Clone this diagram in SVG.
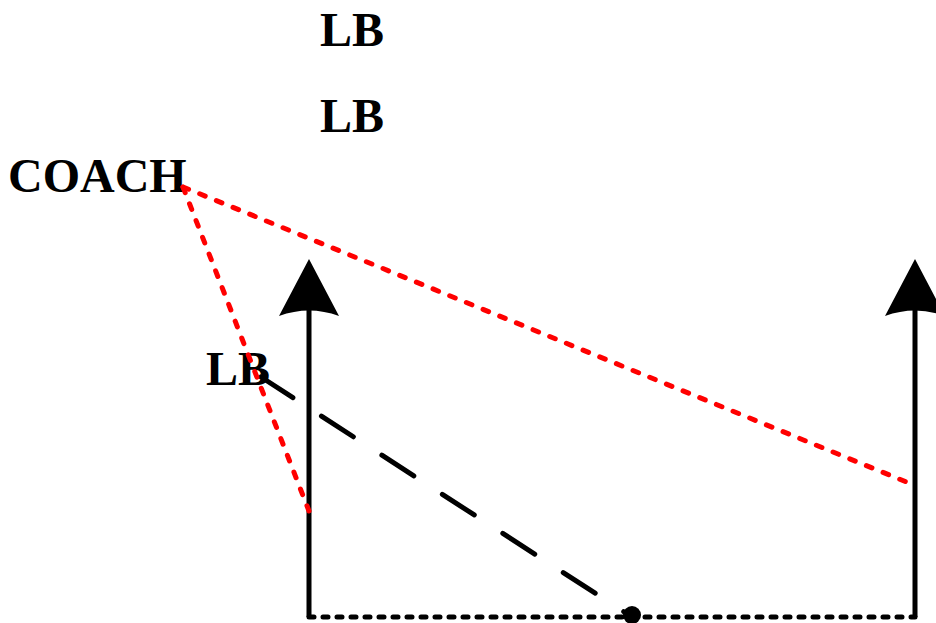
<svg xmlns="http://www.w3.org/2000/svg" width="936" height="623" viewBox="0 0 936 623">
<style>
.lbl{font-family:"Liberation Serif","Times New Roman",serif;font-weight:bold;font-size:48px;fill:#000}
.axis{stroke:#000;stroke-width:5;fill:none}
.base{stroke:#000;stroke-width:5;fill:none;stroke-dasharray:5 9;stroke-linecap:round}
.route{stroke:#000;stroke-width:5;fill:none;stroke-dasharray:38 34;stroke-linecap:round}
.sight{stroke:#ff0000;stroke-width:5;fill:none;stroke-dasharray:6 12;stroke-linecap:round}
</style>
<defs>
<path id="head" d="M0,0 L-30,57 Q0,46 30,57 Z" fill="#000"/>
</defs>
<rect width="936" height="623" fill="#fff"/>
<g id="labels">
<g id="lb1"><text class="lbl" x="320" y="46">LB</text></g>
<g id="lb2"><text class="lbl" x="320" y="132">LB</text></g>
<g id="coach"><text class="lbl" x="8" y="192">COACH</text></g>
<g id="lb3"><text class="lbl" x="206" y="385">LB</text></g>
</g>
<g id="connectors">
<g id="left-arrow"><line class="axis" x1="309" y1="617" x2="309" y2="300"/><use href="#head" x="309" y="259"/></g>
<g id="right-arrow"><line class="axis" x1="915" y1="617" x2="915" y2="300"/><use href="#head" x="915" y="259"/></g>
<line class="base" x1="309" y1="617" x2="915" y2="617"/>
<circle id="ball" cx="632" cy="615" r="9" fill="#000"/>
<line class="route" x1="261" y1="377" x2="632" y2="617"/>
<line class="sight" x1="183" y1="187" x2="909" y2="483"/>
<line class="sight" x1="183" y1="187" x2="309" y2="511"/>
</g>
</svg>
